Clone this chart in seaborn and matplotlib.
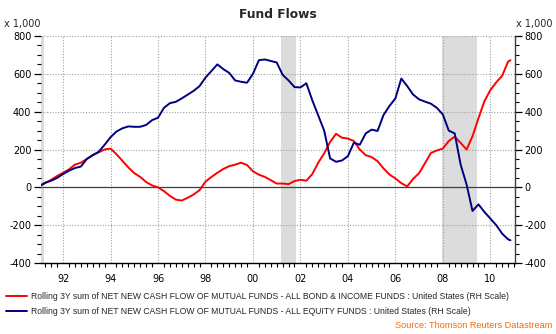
import matplotlib
matplotlib.use("Agg")
import matplotlib.pyplot as plt
import numpy as np
import pandas as pd
import seaborn as sns
from matplotlib.ticker import MultipleLocator, FixedLocator

# ---- data (x 1,000) ----
dates = [1991.08, 1991.25, 1991.5, 1991.75,
         1992.0, 1992.25, 1992.5, 1992.75,
         1993.0, 1993.25, 1993.5, 1993.75,
         1994.0, 1994.25, 1994.5, 1994.75,
         1995.0, 1995.25, 1995.5, 1995.75,
         1996.0, 1996.25, 1996.5, 1996.75,
         1997.0, 1997.25, 1997.5, 1997.75,
         1998.0, 1998.25, 1998.5, 1998.75,
         1999.0, 1999.25, 1999.5, 1999.75,
         2000.0, 2000.25, 2000.5, 2000.75,
         2001.0, 2001.25, 2001.5, 2001.75,
         2002.0, 2002.25, 2002.5, 2002.75,
         2003.0, 2003.25, 2003.5, 2003.75,
         2004.0, 2004.25, 2004.5, 2004.75,
         2005.0, 2005.25, 2005.5, 2005.75,
         2006.0, 2006.25, 2006.5, 2006.75,
         2007.0, 2007.25, 2007.5, 2007.75,
         2008.0, 2008.25, 2008.5, 2008.75,
         2009.0, 2009.25, 2009.5, 2009.75,
         2010.0, 2010.25, 2010.5, 2010.75, 2010.85]

bond = [12, 22, 40, 60,
        77, 95, 120, 130,
        150, 170, 185, 200,
        205, 175, 140, 105,
        75, 55, 28, 10,
        0, -20, -45, -65,
        -70, -55, -38, -15,
        30, 55, 77, 97,
        112, 120, 130, 118,
        85, 67, 55, 38,
        20, 20, 17, 33,
        40, 35, 70, 130,
        180, 240, 283, 262,
        258, 245, 200, 170,
        160, 138, 100, 68,
        47, 22, 5, 45,
        75, 128, 182, 195,
        205, 245, 268, 235,
        200, 270, 365, 455,
        514, 555, 590, 665, 672]

equity = [12, 25, 35, 50,
          70, 88, 102, 110,
          150, 170, 188, 225,
          265, 295, 312, 322,
          320, 320, 330, 355,
          368, 420, 445, 452,
          470, 490, 510, 535,
          580, 615, 650, 625,
          605, 565, 558, 553,
          600, 672, 676, 668,
          660, 595, 565, 530,
          528, 550, 460, 380,
          300, 153, 135, 142,
          165, 236, 225, 285,
          305, 298, 382, 430,
          470, 575, 535, 490,
          465, 453, 442, 420,
          385, 300, 285, 120,
          15, -125, -90, -130,
          -165, -200, -245, -275, -280]

series_names = [
    "Rolling 3Y sum of NET NEW CASH FLOW OF MUTUAL FUNDS - ALL BOND & INCOME FUNDS : United States (RH Scale)",
    "Rolling 3Y sum of NET NEW CASH FLOW OF MUTUAL FUNDS - ALL EQUITY FUNDS : United States (RH Scale)",
]
series_colors = ["#FF0000", "#000080"]
recessions = [(1990.5, 1991.2), (2001.17, 2001.83), (2007.96, 2009.45)]
year_ticks = [1992, 1994, 1996, 1998, 2000, 2002, 2004, 2006, 2008, 2010]
year_labels = ["92", "94", "96", "98", "00", "02", "04", "06", "08", "10"]
y_ticks = [-400, -200, 0, 200, 400, 600, 800]

df = pd.concat([
    pd.DataFrame({"date": dates, "value": bond, "series": series_names[0]}),
    pd.DataFrame({"date": dates, "value": equity, "series": series_names[1]}),
])

sns.set_style("white")
plt.rcParams["font.family"] = ["DejaVu Sans"]

fig = plt.figure(figsize=(5.56, 3.34), dpi=100)
ax = fig.add_axes([41 / 556, 1 - 263 / 334, (515 - 41) / 556, (263 - 36) / 334])

for a, b in recessions:
    ax.axvspan(a, b, color="#DCDCDC", lw=0, zorder=0)

sns.lineplot(data=df, x="date", y="value", hue="series",
             palette=dict(zip(series_names, series_colors)),
             linewidth=1.4, ax=ax, zorder=3)

ax.set_xlim(1991.07, 2011.04)
ax.set_ylim(-400, 800)
ax.set_xlabel("")
ax.set_ylabel("")

ax.xaxis.set_major_locator(FixedLocator(year_ticks))
ax.set_xticklabels(year_labels)
ax.xaxis.set_minor_locator(MultipleLocator(0.25))
ax.yaxis.set_major_locator(FixedLocator(y_ticks))
ax.yaxis.set_minor_locator(MultipleLocator(50))
ax.set_yticklabels([str(v) for v in y_ticks])

ax.grid(True, which="major", color="#A0A0A0", linestyle=(0, (1, 1.5)), linewidth=0.8)
ax.axhline(0, color="#404040", lw=0.9, zorder=2)

ax.tick_params(axis="both", which="both", direction="out", labelsize=7, colors="#000000")
ax.tick_params(axis="y", which="both", left=True, right=True, labelleft=True, labelright=True, pad=2)
ax.tick_params(axis="y", which="major", length=5, width=0.9)
ax.tick_params(axis="y", which="minor", length=3, width=0.8)
ax.tick_params(axis="x", which="major", length=5, width=0.9, pad=3)
ax.tick_params(axis="x", which="minor", length=3, width=0.8, bottom=True)

for s in ["top", "left"]:
    ax.spines[s].set_visible(False)
ax.spines["bottom"].set_color("#000000")
ax.spines["bottom"].set_linewidth(1.0)
ax.spines["right"].set_color("#404040")
ax.spines["right"].set_linewidth(1.0)

handles, labels = ax.get_legend_handles_labels()
ax.get_legend().remove()
fig.legend(handles, labels, loc="upper left", bbox_to_anchor=(6 / 556, 1 - 292 / 334),
           frameon=False, prop={"family": "Liberation Sans", "size": 6.2},
           handlelength=2.4, handletextpad=0.5,
           labelspacing=0.7, borderaxespad=0, borderpad=0)

fig.text(0.5, 1 - 14 / 334, "Fund Flows", ha="center", va="center",
         fontsize=8.8, fontweight="bold")
fig.text(4 / 556, 1 - 24 / 334, "x 1,000", ha="left", va="center", fontsize=7)
fig.text(553 / 556, 1 - 24 / 334, "x 1,000", ha="right", va="center", fontsize=7)
fig.text(552 / 556, 1 - 326 / 334, "Source: Thomson Reuters Datastream", ha="right",
         va="center", fontsize=6.6, color="#FF6600", family="Liberation Sans")

fig.savefig("out.png", dpi=100)
